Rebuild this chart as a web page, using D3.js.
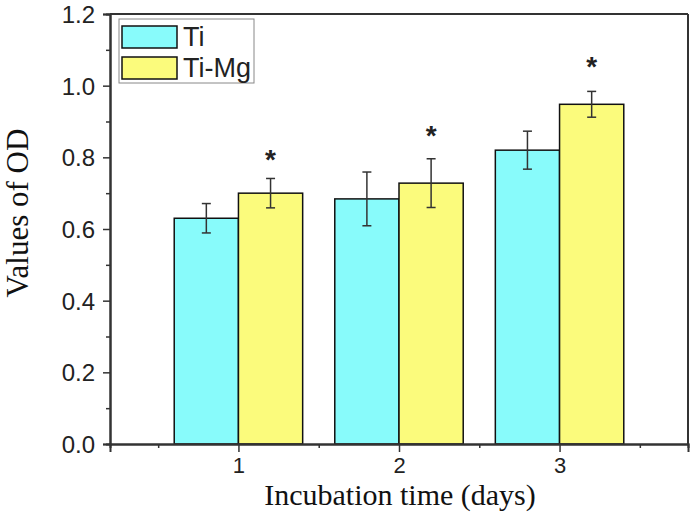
<!DOCTYPE html>
<html>
<head>
<meta charset="utf-8">
<script src="https://cdn.jsdelivr.net/npm/d3@7"></script>
<style>
  html, body { margin: 0; padding: 0; background: #fff; }
  svg { display: block; }
</style>
</head>
<body>
<svg id="chart" width="693" height="512"></svg>
<script>
// ---- data ----
const days = [1, 2, 3];
const seriesNames = ["Ti", "Ti-Mg"];
const tiValues = [0.63, 0.684, 0.82];
const tiErrors = [0.041, 0.075, 0.053];
const tiMgValues = [0.70, 0.728, 0.948];
const tiMgErrors = [0.041, 0.068, 0.036];
const starValues = [0.81, 0.876, 1.069];
const yTicks = [0, 0.2, 0.4, 0.6, 0.8, 1.0, 1.2];
const yMinorTicks = [0.1, 0.3, 0.5, 0.7, 0.9, 1.1];
const xTicks = [1, 2, 3];
const xMinorTicks = [0.5, 1.5, 2.5, 3.5];
const xLabel = "Incubation time (days)";
const yLabel = "Values of OD";

const colors = { "Ti": "#88fbfb", "Ti-Mg": "#fbfb7c" };
const axisColor = "#333";

const svg = d3.select("#chart");
const x = d3.scaleLinear().domain([0.2, 3.8]).range([110, 688]);
const y = d3.scaleLinear().domain([0, 1.2]).range([444, 14]);
const barW = 0.4;

const series = [
  { name: "Ti", values: tiValues, errors: tiErrors, offset: -barW },
  { name: "Ti-Mg", values: tiMgValues, errors: tiMgErrors, offset: 0 }
];

// bars
series.forEach(s => {
  svg.append("g").selectAll("rect").data(days).join("rect")
    .attr("x", (d) => x(d + s.offset))
    .attr("width", x(barW) - x(0))
    .attr("y", (d, i) => y(s.values[i]))
    .attr("height", (d, i) => y(0) - y(s.values[i]))
    .attr("fill", colors[s.name])
    .attr("stroke", "#111")
    .attr("stroke-width", 1.5);
});

// error bars
series.forEach(s => {
  const g = svg.append("g").attr("stroke", "#333").attr("stroke-width", 1.5);
  days.forEach((d, i) => {
    const cx = x(d + s.offset + barW / 2);
    const top = y(s.values[i] + s.errors[i]);
    const bot = y(s.values[i] - s.errors[i]);
    g.append("line").attr("x1", cx).attr("x2", cx).attr("y1", top).attr("y2", bot);
    g.append("line").attr("x1", cx - 4.5).attr("x2", cx + 4.5).attr("y1", top).attr("y2", top);
    g.append("line").attr("x1", cx - 4.5).attr("x2", cx + 4.5).attr("y1", bot).attr("y2", bot);
  });
});

// significance stars
svg.append("g").selectAll("text").data(days).join("text")
  .attr("x", d => x(d + barW / 2))
  .attr("y", (d, i) => y(starValues[i]) + 15)
  .attr("text-anchor", "middle")
  .attr("font-family", "Liberation Sans, Arial, sans-serif")
  .attr("font-size", 28)
  .attr("font-weight", "bold")
  .attr("fill", "#222")
  .text("*");

// frame (top & right)
svg.append("line").attr("x1", x(0.2)).attr("x2", x(3.8)).attr("y1", y(1.2)).attr("y2", y(1.2))
  .attr("stroke", axisColor).attr("stroke-width", 2);
svg.append("line").attr("x1", x(3.8)).attr("x2", x(3.8)).attr("y1", y(1.2)).attr("y2", y(0))
  .attr("stroke", axisColor).attr("stroke-width", 2);

// y axis
const yAxis = svg.append("g").attr("transform", `translate(${x(0.2)},0)`)
  .call(d3.axisLeft(y).tickValues(yTicks).tickFormat(d3.format(".1f")).tickSize(7).tickPadding(8));
const yMinor = svg.append("g").attr("transform", `translate(${x(0.2)},0)`)
  .call(d3.axisLeft(y).tickValues(yMinorTicks).tickFormat("").tickSize(4));
// x axis
const xAxis = svg.append("g").attr("transform", `translate(0,${y(0)})`)
  .call(d3.axisBottom(x).tickValues(xTicks).tickFormat(d3.format("d")).tickSize(8).tickPadding(5));
const xMinor = svg.append("g").attr("transform", `translate(0,${y(0)})`)
  .call(d3.axisBottom(x).tickValues(xMinorTicks).tickFormat("").tickSize(4));

[yAxis, yMinor, xAxis, xMinor].forEach(g => {
  g.select(".domain").attr("stroke", axisColor).attr("stroke-width", 2);
  g.selectAll(".tick line").attr("stroke", axisColor).attr("stroke-width", 1.5);
  g.selectAll("text").attr("fill", "#222").attr("font-family", "Liberation Sans, Arial, sans-serif");
});
yAxis.selectAll("text").attr("font-size", 24).attr("dy", "0.36em");
xAxis.selectAll("text").attr("font-size", 22).attr("dy", "0.71em");

// axis labels
svg.append("text")
  .attr("x", 400).attr("y", 505)
  .attr("text-anchor", "middle")
  .attr("font-family", "Liberation Serif, Times New Roman, serif")
  .attr("font-size", 30)
  .attr("fill", "#111")
  .text(xLabel);
svg.append("text")
  .attr("transform", "translate(28,213) rotate(-90)")
  .attr("text-anchor", "middle")
  .attr("font-family", "Liberation Serif, Times New Roman, serif")
  .attr("font-size", 31)
  .attr("fill", "#111")
  .text(yLabel);

// legend
const legend = svg.append("g");
legend.append("rect").attr("x", 119).attr("y", 19).attr("width", 135).attr("height", 64)
  .attr("fill", "#fff").attr("stroke", "#888").attr("stroke-width", 1);
seriesNames.forEach((name, i) => {
  const ry = 26 + i * 31;
  legend.append("rect").attr("x", 122).attr("y", ry).attr("width", 55).attr("height", 22)
    .attr("fill", colors[name]).attr("stroke", "#111").attr("stroke-width", 1.5);
  legend.append("text").attr("x", 183).attr("y", ry + 20)
    .attr("font-family", "Liberation Sans, Arial, sans-serif")
    .attr("font-size", 27).attr("fill", "#222")
    .text(name);
});
</script>
</body>
</html>
